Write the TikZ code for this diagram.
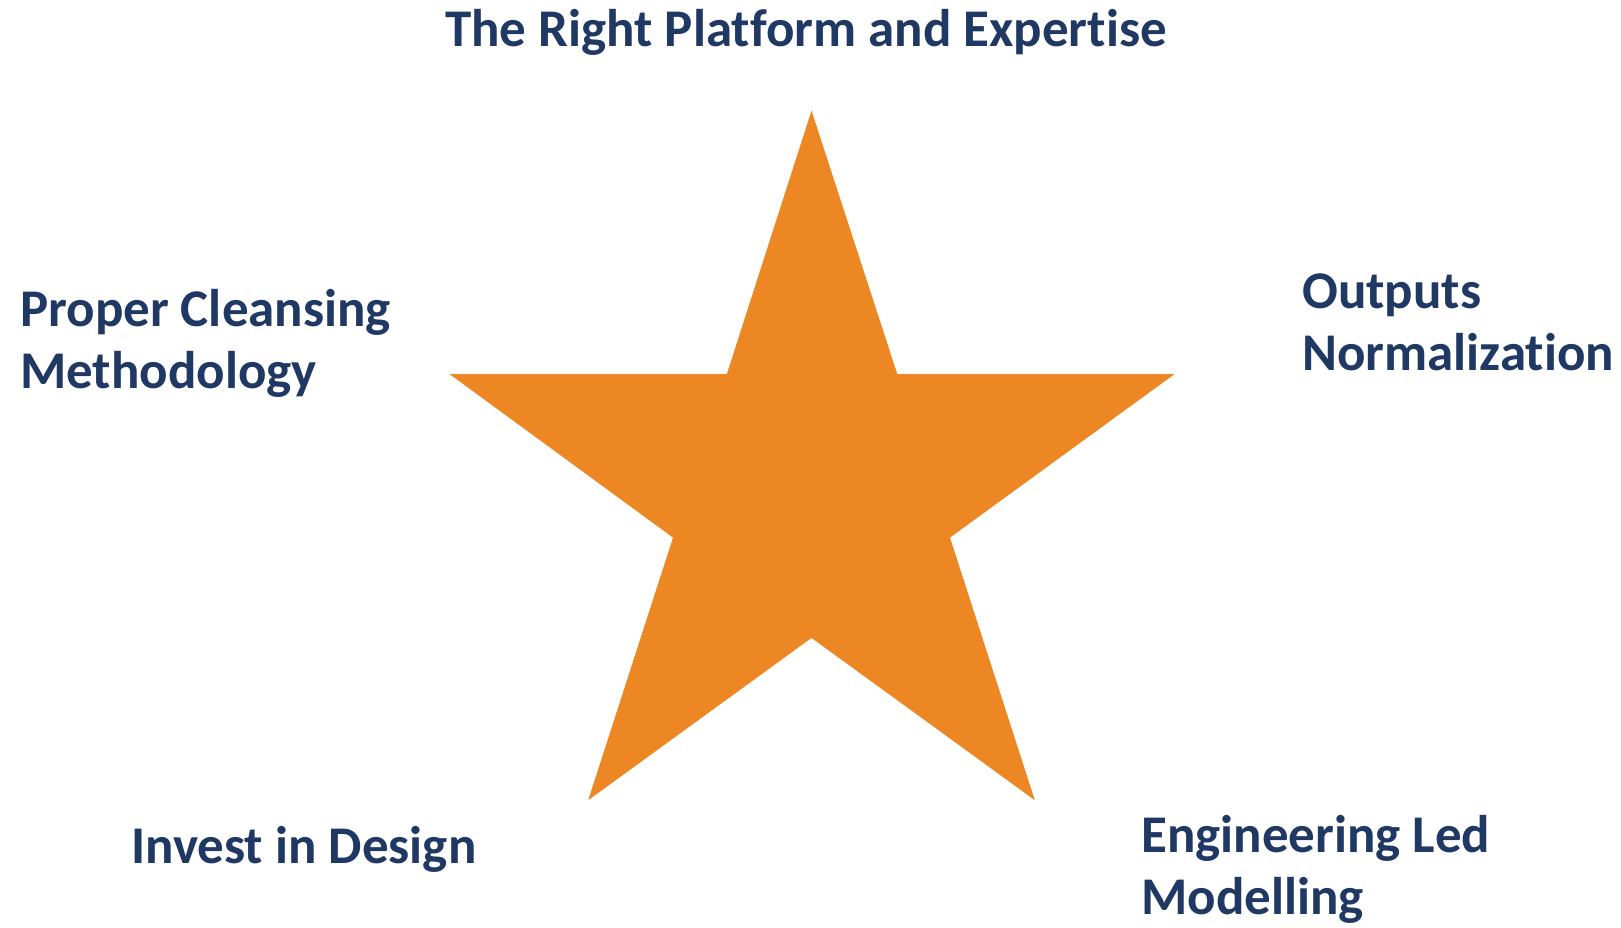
\documentclass[tikz,border=0pt]{standalone}
\usepackage{fontspec}
\setmainfont{Carlito}[Ligatures={NoCommon}]
\definecolor{navy}{HTML}{203864}
\definecolor{starorange}{HTML}{ED8723}
\begin{document}
\begin{tikzpicture}[x=1pt,y=-1pt,
  lbl/.style={anchor=base west,inner sep=0pt,text=navy,font=\fontsize{53}{62}\selectfont\bfseries,align=left}]
\useasboundingbox (0,0) rectangle (1621,927);
\fill[starorange] (811.5,110.6) -- (897.3,374.2) -- (1174.4,374.2) -- (950,537.6) -- (1034.8,800.2)
  -- (811.5,637.9) -- (588.2,800.2) -- (673,537.6) -- (449.7,374.2) -- (726.8,374.2) -- cycle;
\node[lbl] (top) at (445,46) {The Right Platform and Expertise};
\node[lbl] (left) at (20,388) {Proper Cleansing\\Methodology};
\node[lbl] (right) at (1302,370) {Outputs\\Normalization};
\node[lbl] (bl) at (131,863) {Invest in Design};
\node[lbl] (br) at (1141,914) {Engineering Led\\Modelling};
\end{tikzpicture}
\end{document}
